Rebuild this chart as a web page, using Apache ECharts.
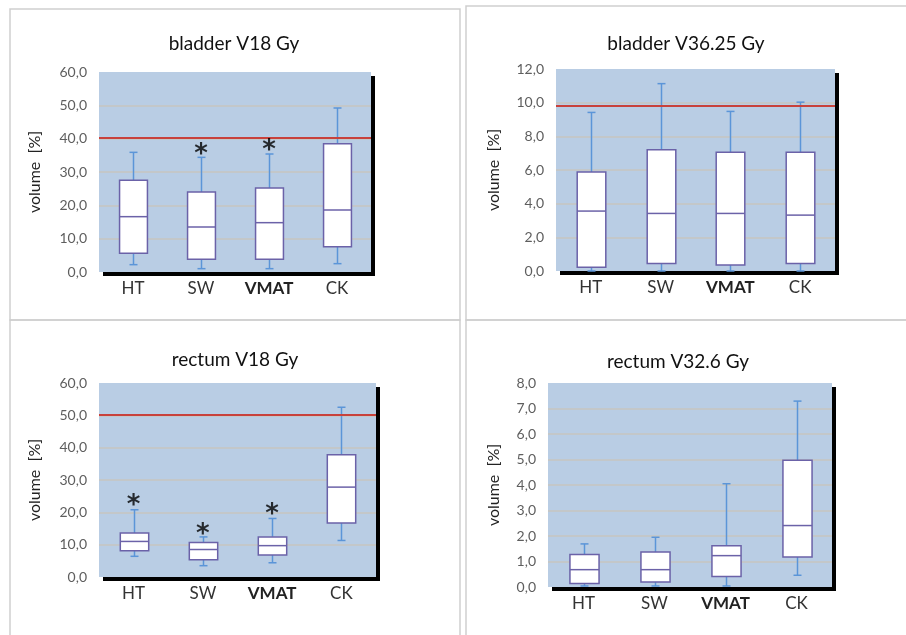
<!DOCTYPE html>
<html>
<head>
<meta charset="utf-8">
<script src="https://cdn.jsdelivr.net/npm/echarts@6/dist/echarts.min.js"></script>
<style>
  html, body { margin: 0; padding: 0; background: #fff; }
  #chart { width: 906px; height: 635px; }
</style>
</head>
<body>
<div id="chart"></div>
<script>
var categories = ['HT', 'SW', 'VMAT', 'CK'];
var titles = ['bladder V18 Gy', 'bladder V36.25 Gy', 'rectum V18 Gy', 'rectum V32.6 Gy'];

// [min, Q1, median, Q3, max] per technique
var bladderV18 = [[2.2, 5.6, 16.6, 27.5, 35.9], [1.0, 3.8, 13.5, 24.0, 34.4], [1.0, 3.8, 14.8, 25.2, 35.4], [2.5, 7.6, 18.6, 38.5, 49.2]];
var bladderV36 = [[0.0, 0.22, 3.56, 5.88, 9.42], [0.0, 0.44, 3.42, 7.21, 11.13], [0.0, 0.36, 3.42, 7.05, 9.48], [0.0, 0.44, 3.32, 7.05, 10.03]];
var rectumV18 = [[6.4, 8.1, 11.0, 13.6, 20.8], [3.5, 5.3, 8.5, 10.7, 12.4], [4.4, 6.8, 9.7, 12.4, 18.1], [11.3, 16.7, 27.8, 37.8, 52.5]];
var rectumV32 = [[0.04, 0.14, 0.68, 1.27, 1.69], [0.04, 0.20, 0.68, 1.37, 1.95], [0.04, 0.41, 1.23, 1.62, 4.05], [0.46, 1.18, 2.41, 4.97, 7.29]];

// significance asterisks [category index, value]
var bladderV18Stars = [[1, 37.0], [2, 38.2]];
var rectumV18Stars = [[0, 23.9], [1, 15.2], [2, 21.3]];

// constraint lines (null = none)
var limits = [40.2, 9.8, 50.3, null];

var axisMax = [60, 12, 60, 8];
var axisStep = [10, 2, 10, 1];

var panels = [bladderV18, bladderV36, rectumV18, rectumV32];
var stars = [bladderV18Stars, [], rectumV18Stars, []];

var grids = [
  { left: 99, top: 72, width: 272, height: 200 },
  { left: 556, top: 69, width: 279, height: 202 },
  { left: 99, top: 383, width: 277, height: 194 },
  { left: 548, top: 383, width: 284, height: 204 }
];
var titlePos = [[229, 29], [681, 29], [230, 345], [673, 347]];
var nameGaps = [56, 54, 56, 46];

var font = 'Lato, "Open Sans", sans-serif';

function renderBox(params, api) {
  var x = api.value(0);
  var lo = api.coord([x, api.value(1)]);
  var q1 = api.coord([x, api.value(2)]);
  var med = api.coord([x, api.value(3)]);
  var q3 = api.coord([x, api.value(4)]);
  var hi = api.coord([x, api.value(5)]);
  var bw = api.size([1, 0])[0] * 0.41;
  var cw = 4;
  var cx = Math.round(lo[0]) + 0.5;
  var whisker = { stroke: '#5b95d8', lineWidth: 1.5 };
  return {
    type: 'group',
    children: [
      { type: 'line', shape: { x1: cx, y1: hi[1], x2: cx, y2: lo[1] }, style: whisker },
      { type: 'line', shape: { x1: cx - cw, y1: hi[1], x2: cx + cw, y2: hi[1] }, style: whisker },
      { type: 'line', shape: { x1: cx - cw, y1: lo[1], x2: cx + cw, y2: lo[1] }, style: whisker },
      { type: 'rect', shape: { x: cx - bw / 2, y: q3[1], width: bw, height: q1[1] - q3[1] },
        style: { fill: '#ffffff', stroke: '#6b62a8', lineWidth: 1.5 } },
      { type: 'line', shape: { x1: cx - bw / 2, y1: med[1], x2: cx + bw / 2, y2: med[1] },
        style: { stroke: '#6b62a8', lineWidth: 1.5 } }
    ]
  };
}

var option = {
  animation: false,
  textStyle: { fontFamily: font },
  title: [],
  grid: [],
  xAxis: [],
  yAxis: [],
  series: [],
  graphic: [
    { type: 'rect', shape: { x: 10, y: 9, width: 450, height: 311 }, style: { fill: 'none', stroke: '#cfcfcf', lineWidth: 1.5 } },
    { type: 'rect', shape: { x: 466, y: 6, width: 460, height: 314 }, style: { fill: 'none', stroke: '#cfcfcf', lineWidth: 1.5 } },
    { type: 'rect', shape: { x: 10, y: 320, width: 450, height: 330 }, style: { fill: 'none', stroke: '#cfcfcf', lineWidth: 1.5 } },
    { type: 'rect', shape: { x: 466, y: 320, width: 460, height: 330 }, style: { fill: 'none', stroke: '#cfcfcf', lineWidth: 1.5 } }
  ]
};

panels.forEach(function (rows, i) {
  option.title.push({
    text: titles[i],
    left: titlePos[i][0],
    top: titlePos[i][1],
    textAlign: 'center',
    textStyle: { fontFamily: font, fontSize: 19, fontWeight: 'normal', color: '#111' }
  });
  option.grid.push({
    left: grids[i].left, top: grids[i].top, width: grids[i].width, height: grids[i].height,
    show: true,
    backgroundColor: '#b9cde4',
    borderWidth: 0,
    shadowColor: '#000',
    shadowBlur: 0,
    shadowOffsetX: 4,
    shadowOffsetY: 4
  });
  option.xAxis.push({
    type: 'category',
    gridIndex: i,
    data: categories,
    axisLine: { show: false },
    axisTick: { show: false },
    axisLabel: {
      interval: 0,
      margin: 8,
      fontFamily: font,
      fontSize: 17,
      color: '#333',
      formatter: function (v) { return v === 'VMAT' ? '{b|' + v + '}' : v; },
      rich: { b: { fontFamily: font, fontSize: 17, fontWeight: 'bold', color: '#222' } }
    }
  });
  option.yAxis.push({
    type: 'value',
    gridIndex: i,
    min: 0,
    max: axisMax[i],
    interval: axisStep[i],
    name: 'volume  [%]',
    nameLocation: 'middle',
    nameGap: nameGaps[i],
    nameRotate: 90,
    nameTextStyle: { fontFamily: font, fontSize: 16, color: '#222' },
    axisLine: { show: false },
    axisTick: { show: false },
    axisLabel: {
      margin: 12,
      fontFamily: font,
      fontSize: 14,
      color: '#5e5e5e',
      formatter: function (v) { return v.toFixed(1).replace('.', ','); }
    },
    splitLine: { show: true, showMinLine: false, showMaxLine: false, lineStyle: { color: '#c7c4c0', width: 1.5 } }
  });
  var boxSeries = {
    type: 'custom',
    xAxisIndex: i,
    yAxisIndex: i,
    renderItem: renderBox,
    encode: { x: 0, y: [1, 2, 3, 4, 5] },
    data: rows.map(function (r, k) { return [k].concat(r); }),
    z: 3
  };
  if (limits[i] !== null) {
    boxSeries.markLine = {
      silent: true,
      symbol: 'none',
      label: { show: false },
      lineStyle: { color: '#c8413b', width: 2, type: 'solid' },
      data: [{ yAxis: limits[i] }],
      z: 4
    };
  }
  option.series.push(boxSeries);
  if (stars[i].length) {
    option.series.push({
      type: 'scatter',
      xAxisIndex: i,
      yAxisIndex: i,
      symbolSize: 1,
      itemStyle: { color: 'rgba(0,0,0,0)' },
      data: stars[i],
      z: 5,
      label: {
        show: true,
        position: 'inside',
        formatter: '*',
        fontFamily: 'DejaVu Sans',
        fontSize: 26,
        fontWeight: 'bold',
        color: '#000',
        offset: [0, 7]
      }
    });
  }
});

var chart = echarts.init(document.getElementById('chart'));
chart.setOption(option);
</script>
</body>
</html>
